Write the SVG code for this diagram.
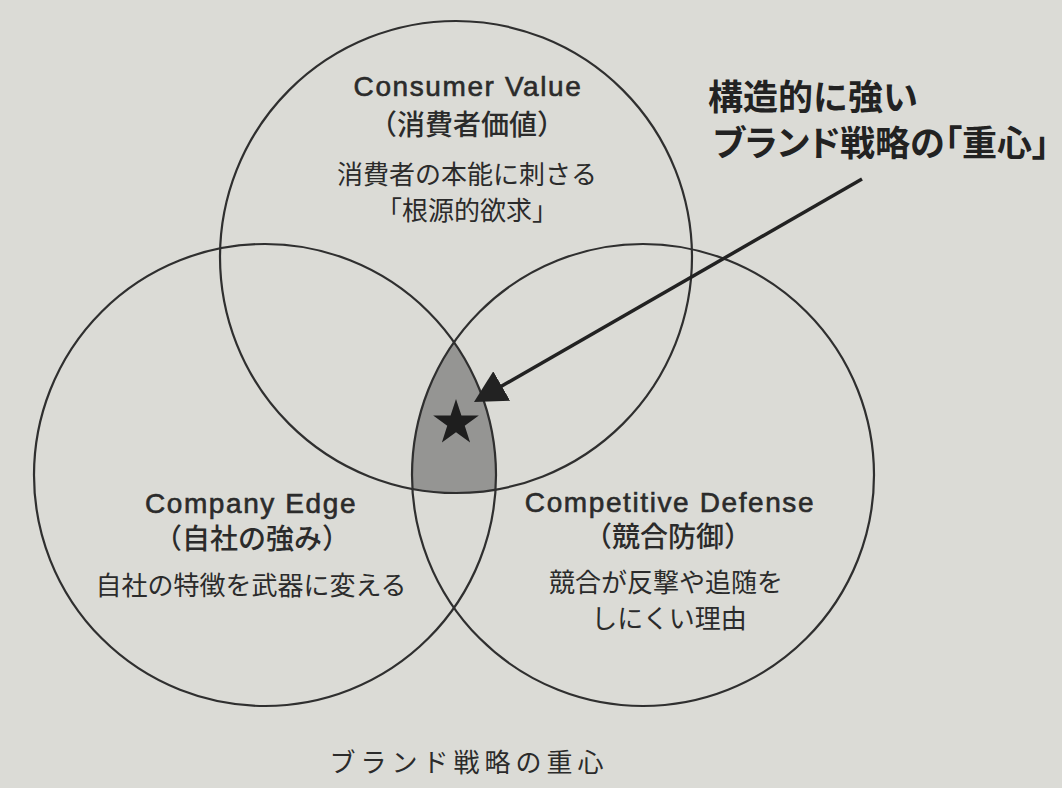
<svg xmlns="http://www.w3.org/2000/svg" width="1062" height="788" viewBox="0 0 1062 788">
  <style>
    .bg { fill: #dbdbd6; }
    .ring { fill: none; stroke: #2f2f2f; stroke-width: 2.2; }
    .lat { font-family: "Liberation Sans", Arial, sans-serif; font-size: 28px; letter-spacing: 1.6px; fill: #2b2b2b; stroke: #2b2b2b; stroke-width: 0.6px; text-anchor: middle; }
    .jph { font-family: "Noto Sans CJK JP", sans-serif; font-size: 28px; font-weight: 500; fill: #2b2b2b; text-anchor: middle; }
    .jpd { font-family: "Noto Sans CJK JP", sans-serif; font-size: 26px; font-weight: 400; fill: #2b2b2b; text-anchor: middle; }
    .cap { font-family: "Noto Sans CJK JP", sans-serif; font-size: 26px; letter-spacing: 5px; fill: #2b2b2b; text-anchor: middle; }
    .head { font-family: "Noto Sans CJK JP", sans-serif; font-size: 35px; font-weight: 700; fill: #222222; }
    .conn { stroke: #222222; stroke-width: 3.5; fill: none; }
  </style>
  <defs>
    <clipPath id="clipL"><circle cx="265" cy="475" r="231"/></clipPath>
    <clipPath id="clipR"><circle cx="643" cy="475" r="231"/></clipPath>
    <marker id="tri" viewBox="0 -17 32 34" refX="2" refY="0" markerWidth="32" markerHeight="34" markerUnits="userSpaceOnUse" orient="auto">
      <path d="M0,-17 L32,0 L0,17 Z" fill="#222222"/>
    </marker>
  </defs>
  <rect class="bg" x="0" y="0" width="1062" height="788"/>

  <g id="core">
    <g clip-path="url(#clipL)">
      <circle cx="456" cy="257" r="236" fill="#959593" clip-path="url(#clipR)"/>
    </g>
  </g>

  <g id="consumer-value">
    <circle class="ring" cx="456" cy="257" r="236"/>
    <text class="lat" x="468" y="96">Consumer Value</text>
    <text class="jph" x="467" y="135">（消費者価値）</text>
    <text class="jpd" x="467" y="184">消費者の本能に刺さる</text>
    <text class="jpd" x="467" y="220">「根源的欲求」</text>
  </g>

  <g id="company-edge">
    <circle class="ring" cx="265" cy="475" r="231"/>
    <text class="lat" x="251" y="513">Company Edge</text>
    <text class="jph" x="252" y="549">（自社の強み）</text>
    <text class="jpd" x="251" y="595">自社の特徴を武器に変える</text>
  </g>

  <g id="competitive-defense">
    <circle class="ring" cx="643" cy="475" r="231"/>
    <text class="lat" x="670" y="512">Competitive Defense</text>
    <text class="jph" x="668" y="547">（競合防御）</text>
    <text class="jpd" x="666" y="592">競合が反撃や追随を</text>
    <text class="jpd" x="669" y="628">しにくい理由</text>
  </g>

  <g id="star">
    <polygon fill="#1e1e1e" points="456,399 461.41,415.56 478.83,415.58 464.75,425.84 470.11,442.42 456,432.2 441.89,442.42 447.25,425.84 433.17,415.58 450.59,415.56"/>
  </g>

  <g id="annotation">
    <text class="head" x="708" y="110">構造的に強い</text>
    <text class="head" x="713" y="156" style="font-feature-settings: 'palt';">ブランド戦略の「重心」</text>
  </g>

  <g id="connectors">
    <line class="conn" x1="862" y1="179" x2="500" y2="387" marker-end="url(#tri)"/>
  </g>

  <g id="caption">
    <text class="cap" x="469" y="772">ブランド戦略の重心</text>
  </g>
</svg>
